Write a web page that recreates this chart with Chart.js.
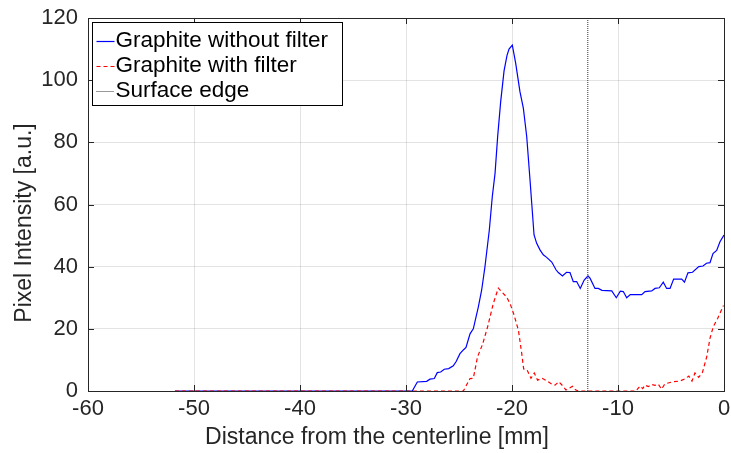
<!DOCTYPE html>
<html>
<head>
<meta charset="utf-8">
<script src="https://cdn.jsdelivr.net/npm/chart.js@4/dist/chart.umd.min.js"></script>
<style>
  html, body { margin: 0; padding: 0; background: #fff; }
  #wrap { width: 731px; height: 453px; }
</style>
</head>
<body>
<div id="wrap"><canvas id="c" width="731" height="453"></canvas></div>
<script>
// Intensity profile across the sample, position in mm from the centerline
const xNoFilter = [-51.8, -29.41, -28.93, -28.05, -27.74, -27.33, -27.05, -26.73, -26.39, -25.97,
  -25.54, -25.28, -24.91, -24.59, -24.34, -23.96, -23.65, -23.18, -22.86, -22.55,
  -22.14, -21.86, -21.60, -21.35, -21.07, -20.75, -20.47, -20.28, -19.97, -19.65,
  -19.25, -18.93, -18.61, -18.30, -17.92, -17.67, -17.36, -17.05, -16.73, -16.25,
  -15.85, -15.63, -15.24, -14.86, -14.53, -14.22, -13.90, -13.56, -13.19, -12.83,
  -12.64, -12.17, -11.86, -11.51, -10.59, -10.16, -9.78, -9.50, -9.18, -8.84,
  -7.76, -7.45, -6.82, -6.51, -6.10, -5.73, -5.41, -5.09, -4.75, -3.99,
  -3.73, -3.40, -2.97, -2.38, -1.98, -1.65, -1.32, -1.04, -0.69, -0.38, 0];
const yNoFilter = [0, 0, 2.9, 3.1, 3.8, 4.0, 5.9, 6.1, 7.0, 7.2,
  8.1, 9.4, 12.0, 13.2, 14.0, 18.4, 20.0, 27.0, 32.5, 40.0,
  51.8, 62.5, 70.0, 82.0, 93.0, 103.0, 108.0, 110.0, 111.3, 105.4,
  96.3, 91.0, 81.8, 67.9, 50.2, 47.5, 45.4, 43.8, 43.0, 41.5,
  39.0, 38.1, 37.0, 38.2, 38.1, 35.2, 35.2, 33.0, 35.7, 37.0,
  36.3, 33.0, 33.0, 32.4, 32.2, 30.0, 32.1, 32.0, 30.0, 31.0,
  31.0, 32.0, 32.2, 33.0, 33.2, 35.0, 33.0, 33.0, 36.0, 36.0,
  35.0, 38.0, 38.2, 40.0, 40.2, 41.1, 41.3, 44.2, 45.2, 48.0, 50.2];

const xFilter = [-51.8, -24.59, -23.96, -23.65, -23.25, -22.78, -22.31, -21.76, -21.29, -20.94,
  -20.52, -20.19, -19.81, -19.39, -19.08, -18.90, -18.58, -18.21, -17.90, -17.59,
  -17.17, -16.70, -16.18, -15.94, -15.59, -15.14, -14.91, -14.29, -14.01, -13.75,
  -8.30, -7.92, -7.67, -7.45, -7.14, -6.82, -6.51, -6.20, -5.90, -5.57,
  -4.78, -4.15, -3.68, -3.32, -3.02, -2.74, -2.39, -2.03, -1.63, -1.32,
  -1.01, -0.59, -0.05];
const yFilter = [0, 0, 4.0, 4.1, 11.0, 15.0, 20.5, 28.2, 33.1, 31.8,
  30.3, 28.2, 24.5, 19.5, 12.0, 7.1, 6.8, 4.1, 5.8, 3.5,
  4.1, 3.2, 2.1, 1.9, 3.0, 1.4, 0.3, 1.5, 0.4, 0,
  0, 1.6, 0.8, 1.9, 1.4, 2.1, 1.8, 2.2, 0.6, 2.3,
  3.0, 3.2, 3.9, 4.8, 3.2, 5.8, 4.4, 6.0, 11.0, 17.0,
  20.7, 23.4, 27.5];

const surfaceEdge = -12.85;
const seriesLabels = ['Graphite without filter', 'Graphite with filter', 'Surface edge'];
const xTicks = [-60, -50, -40, -30, -20, -10, 0];
const yTicks = [0, 20, 40, 60, 80, 100, 120];
const xTitle = 'Distance from the centerline [mm]';
const yTitle = 'Pixel Intensity [a.u.]';

const FONT = '"Liberation Sans", Arial, Helvetica, sans-serif';
const AXIS_COLOR = '#262626';
const LINE_STYLES = [
  { color: '#0000ff', width: 1.2, dash: [] },
  { color: '#ff0000', width: 1.2, dash: [4, 3] },
  { color: '#333333', width: 1, dash: [1, 1] }
];

const toPoints = (xs, ys) => xs.map((x, i) => ({ x: x, y: ys[i] }));

// Axes box with inward ticks on all four sides, axis titles, and the legend inside the plot
const boxPlugin = {
  id: 'boxPlugin',
  afterDraw(chart) {
    const ctx = chart.ctx;
    const a = chart.chartArea;
    const xs = chart.scales.x, ys = chart.scales.y;
    const tl = 6;
    ctx.save();
    ctx.strokeStyle = AXIS_COLOR;
    ctx.lineWidth = 1;
    ctx.beginPath();
    xTicks.forEach(v => {
      const px = Math.round(xs.getPixelForValue(v)) + 0.5;
      ctx.moveTo(px, a.bottom); ctx.lineTo(px, a.bottom - tl);
      ctx.moveTo(px, a.top); ctx.lineTo(px, a.top + tl);
    });
    yTicks.forEach(v => {
      const py = Math.round(ys.getPixelForValue(v)) + 0.5;
      ctx.moveTo(a.left, py); ctx.lineTo(a.left + tl, py);
      ctx.moveTo(a.right, py); ctx.lineTo(a.right - tl, py);
    });
    ctx.stroke();
    ctx.strokeRect(Math.round(a.left) + 0.5, Math.round(a.top) + 0.5,
                   Math.round(a.right - a.left), Math.round(a.bottom - a.top));

    // axis titles
    ctx.fillStyle = AXIS_COLOR;
    ctx.font = '23px ' + FONT;
    ctx.textAlign = 'center';
    ctx.textBaseline = 'middle';
    ctx.fillText(xTitle, a.left + 289, a.bottom + 47);
    ctx.save();
    ctx.translate(25, a.top + 205);
    ctx.rotate(-Math.PI / 2);
    ctx.fillText(yTitle, 0, 0);
    ctx.restore();

    // legend
    const lx = a.left + 4.5, ly = a.top + 4.5, lw = 250, lh = 83;
    ctx.fillStyle = '#fff';
    ctx.fillRect(lx, ly, lw, lh);
    ctx.strokeStyle = '#000';
    ctx.lineWidth = 1;
    ctx.strokeRect(lx, ly, lw, lh);
    ctx.font = '22.5px ' + FONT;
    ctx.textBaseline = 'middle';
    ctx.textAlign = 'left';
    const rowY = [ly + 18, ly + 43, ly + 68];
    seriesLabels.forEach((label, i) => {
      const st = LINE_STYLES[i];
      const y = Math.round(rowY[i]) + 0.5;
      ctx.strokeStyle = st.color;
      ctx.lineWidth = st.width;
      ctx.setLineDash(st.dash);
      ctx.beginPath();
      ctx.moveTo(lx + 4, y);
      ctx.lineTo(lx + 22, y);
      ctx.stroke();
      ctx.setLineDash([]);
      ctx.fillStyle = '#000';
      ctx.fillText(label, lx + 23, rowY[i]);
    });
    ctx.restore();
  }
};

new Chart(document.getElementById('c'), {
  type: 'line',
  data: {
    datasets: [
      {
        label: seriesLabels[0],
        data: toPoints(xNoFilter, yNoFilter),
        borderColor: LINE_STYLES[0].color,
        borderWidth: LINE_STYLES[0].width,
        pointRadius: 0,
        tension: 0,
        fill: false,
        order: 3
      },
      {
        label: seriesLabels[1],
        data: toPoints(xFilter, yFilter),
        borderColor: LINE_STYLES[1].color,
        borderWidth: LINE_STYLES[1].width,
        borderDash: LINE_STYLES[1].dash,
        pointRadius: 0,
        tension: 0,
        fill: false,
        order: 2
      },
      {
        label: seriesLabels[2],
        data: [{ x: surfaceEdge, y: 0 }, { x: surfaceEdge, y: 120 }],
        borderColor: LINE_STYLES[2].color,
        borderWidth: LINE_STYLES[2].width,
        borderDash: LINE_STYLES[2].dash,
        pointRadius: 0,
        fill: false,
        order: 1
      }
    ]
  },
  options: {
    responsive: false,
    animation: false,
    events: [],
    layout: { padding: { top: 18, right: 7, left: 0, bottom: 0 } },
    plugins: { legend: { display: false }, tooltip: { enabled: false } },
    scales: {
      x: {
        type: 'linear',
        min: -60, max: 0,
        afterBuildTicks(scale) { scale.ticks = xTicks.map(v => ({ value: v })); },
        afterFit(scale) { scale.height = 62; scale.paddingLeft = 0; scale.paddingRight = 0; },
        grid: { color: 'rgba(0,0,0,0.11)', drawTicks: false },
        border: { display: false },
        ticks: { color: AXIS_COLOR, font: { family: FONT, size: 22 }, padding: 5, maxRotation: 0 },
        title: { display: false }
      },
      y: {
        min: 0, max: 120,
        afterBuildTicks(scale) { scale.ticks = yTicks.map(v => ({ value: v })); },
        afterFit(scale) { scale.width = 88; scale.paddingTop = 0; scale.paddingBottom = 0; },
        grid: { color: 'rgba(0,0,0,0.11)', drawTicks: false },
        border: { display: false },
        ticks: { color: AXIS_COLOR, font: { family: FONT, size: 22 }, padding: 10 },
        title: { display: false }
      }
    }
  },
  plugins: [boxPlugin]
});
</script>
</body>
</html>
